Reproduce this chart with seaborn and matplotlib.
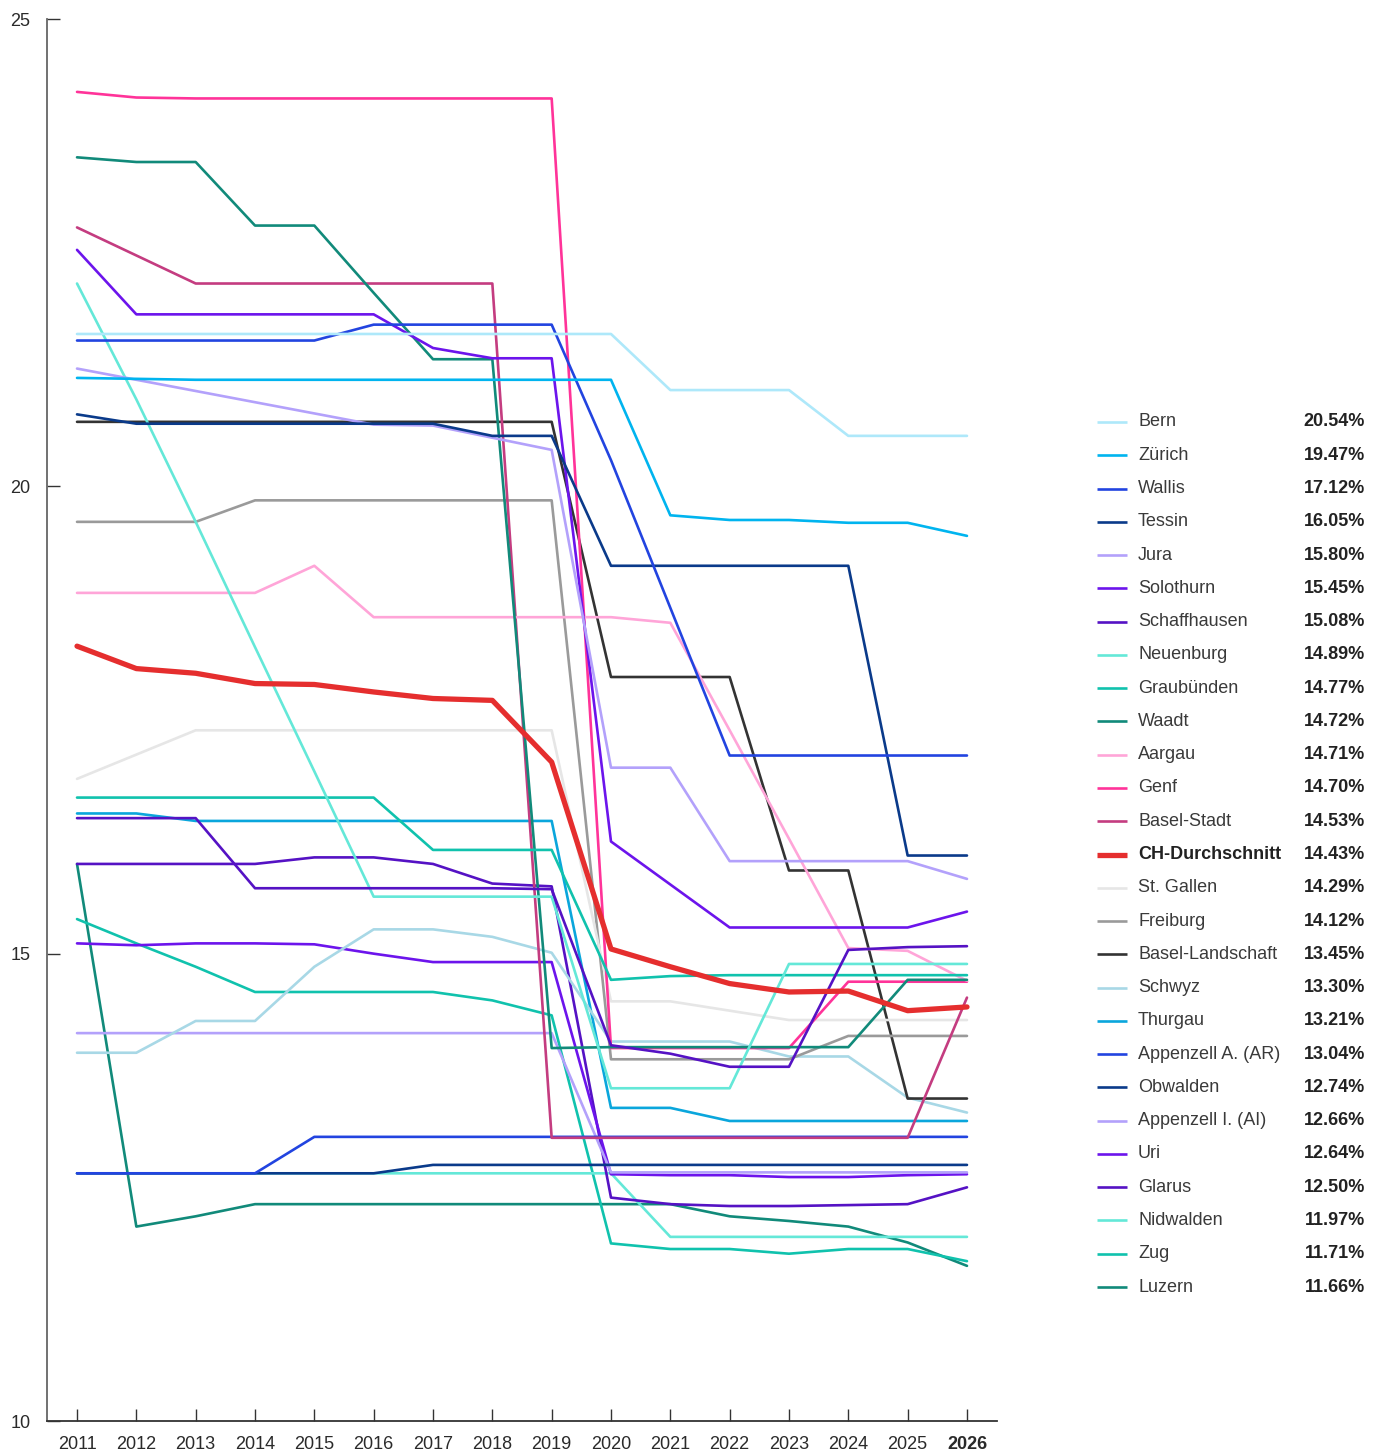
import matplotlib
matplotlib.use("Agg")
import matplotlib.pyplot as plt
from matplotlib.lines import Line2D
import seaborn as sns
import pandas as pd

years = list(range(2011, 2027))

bern = [21.63, 21.63, 21.63, 21.63, 21.63, 21.63, 21.63, 21.63, 21.63, 21.63, 21.03, 21.03, 21.03, 20.54, 20.54, 20.54]
zuerich = [21.16, 21.15, 21.14, 21.14, 21.14, 21.14, 21.14, 21.14, 21.14, 21.14, 19.69, 19.64, 19.64, 19.61, 19.61, 19.47]
wallis = [21.56, 21.56, 21.56, 21.56, 21.56, 21.73, 21.73, 21.73, 21.73, 20.28, 18.70, 17.12, 17.12, 17.12, 17.12, 17.12]
tessin = [20.77, 20.67, 20.67, 20.67, 20.67, 20.67, 20.67, 20.54, 20.54, 19.15, 19.15, 19.15, 19.15, 19.15, 16.05, 16.05]
jura = [21.26, 21.14, 21.02, 20.90, 20.78, 20.66, 20.65, 20.52, 20.39, 16.99, 16.99, 15.99, 15.99, 15.99, 15.99, 15.80]
solothurn = [22.53, 21.84, 21.84, 21.84, 21.84, 21.84, 21.48, 21.37, 21.37, 16.20, 15.74, 15.28, 15.28, 15.28, 15.28, 15.45]
schaffhausen = [16.45, 16.45, 16.45, 15.70, 15.70, 15.70, 15.70, 15.70, 15.69, 14.02, 13.93, 13.79, 13.79, 15.04, 15.07, 15.08]
neuenburg = [22.17, 20.93, 19.62, 18.28, 16.95, 15.61, 15.61, 15.61, 15.61, 13.56, 13.56, 13.56, 14.89, 14.89, 14.89, 14.89]
graubuenden = [16.67, 16.67, 16.67, 16.67, 16.67, 16.67, 16.11, 16.11, 16.11, 14.72, 14.76, 14.77, 14.77, 14.77, 14.77, 14.77]
waadt = [23.52, 23.47, 23.47, 22.79, 22.79, 22.07, 21.36, 21.36, 13.99, 14.00, 14.00, 14.00, 14.00, 14.00, 14.72, 14.72]
aargau = [18.86, 18.86, 18.86, 18.86, 19.15, 18.60, 18.60, 18.60, 18.60, 18.60, 18.54, 17.39, 16.23, 15.06, 15.03, 14.71]
genf = [24.22, 24.16, 24.15, 24.15, 24.15, 24.15, 24.15, 24.15, 24.15, 13.99, 13.99, 13.99, 13.99, 14.70, 14.70, 14.70]
basel_stadt = [22.77, 22.47, 22.17, 22.17, 22.17, 22.17, 22.17, 22.17, 13.03, 13.03, 13.03, 13.03, 13.03, 13.03, 13.03, 14.53]
ch_schnitt = [18.29, 18.05, 18.00, 17.89, 17.88, 17.80, 17.73, 17.71, 17.05, 15.05, 14.86, 14.68, 14.59, 14.60, 14.39, 14.43]
st_gallen = [16.87, 17.13, 17.39, 17.39, 17.39, 17.39, 17.39, 17.39, 17.39, 14.49, 14.49, 14.39, 14.29, 14.29, 14.29, 14.29]
freiburg = [19.62, 19.62, 19.62, 19.85, 19.85, 19.85, 19.85, 19.85, 19.85, 13.87, 13.87, 13.87, 13.87, 14.12, 14.12, 14.12]
basel_land = [20.69, 20.69, 20.69, 20.69, 20.69, 20.69, 20.69, 20.69, 20.69, 17.96, 17.96, 17.96, 15.89, 15.89, 13.45, 13.45]
schwyz = [13.94, 13.94, 14.28, 14.28, 14.86, 15.26, 15.26, 15.18, 15.01, 14.06, 14.06, 14.06, 13.90, 13.90, 13.46, 13.30]
thurgau = [16.50, 16.50, 16.42, 16.42, 16.42, 16.42, 16.42, 16.42, 16.42, 13.35, 13.35, 13.21, 13.21, 13.21, 13.21, 13.21]
appenzell_ar = [12.65, 12.65, 12.65, 12.65, 13.04, 13.04, 13.04, 13.04, 13.04, 13.04, 13.04, 13.04, 13.04, 13.04, 13.04, 13.04]
obwalden = [12.65, 12.65, 12.65, 12.65, 12.65, 12.65, 12.74, 12.74, 12.74, 12.74, 12.74, 12.74, 12.74, 12.74, 12.74, 12.74]
appenzell_ai = [14.15, 14.15, 14.15, 14.15, 14.15, 14.15, 14.15, 14.15, 14.15, 12.66, 12.66, 12.66, 12.66, 12.66, 12.66, 12.66]
uri = [15.11, 15.09, 15.11, 15.11, 15.10, 15.00, 14.91, 14.91, 14.91, 12.64, 12.63, 12.63, 12.61, 12.61, 12.63, 12.64]
glarus = [15.96, 15.96, 15.96, 15.96, 16.03, 16.03, 15.96, 15.75, 15.72, 12.39, 12.32, 12.30, 12.30, 12.31, 12.32, 12.50]
nidwalden = [12.65, 12.65, 12.65, 12.65, 12.65, 12.65, 12.65, 12.65, 12.65, 12.65, 11.97, 11.97, 11.97, 11.97, 11.97, 11.97]
zug = [15.37, 15.11, 14.86, 14.59, 14.59, 14.59, 14.59, 14.50, 14.34, 11.90, 11.84, 11.84, 11.79, 11.84, 11.84, 11.71]
luzern = [15.96, 12.08, 12.19, 12.32, 12.32, 12.32, 12.32, 12.32, 12.32, 12.32, 12.32, 12.19, 12.14, 12.08, 11.91, 11.66]

names = ["Bern", "Zürich", "Wallis", "Tessin", "Jura", "Solothurn", "Schaffhausen",
         "Neuenburg", "Graubünden", "Waadt", "Aargau", "Genf", "Basel-Stadt",
         "CH-Durchschnitt", "St. Gallen", "Freiburg", "Basel-Landschaft", "Schwyz",
         "Thurgau", "Appenzell A. (AR)", "Obwalden", "Appenzell I. (AI)", "Uri",
         "Glarus", "Nidwalden", "Zug", "Luzern"]
series = [bern, zuerich, wallis, tessin, jura, solothurn, schaffhausen, neuenburg,
          graubuenden, waadt, aargau, genf, basel_stadt, ch_schnitt, st_gallen,
          freiburg, basel_land, schwyz, thurgau, appenzell_ar, obwalden,
          appenzell_ai, uri, glarus, nidwalden, zug, luzern]
legend_values = ["20.54%", "19.47%", "17.12%", "16.05%", "15.80%", "15.45%", "15.08%",
                 "14.89%", "14.77%", "14.72%", "14.71%", "14.70%", "14.53%", "14.43%",
                 "14.29%", "14.12%", "13.45%", "13.30%", "13.21%", "13.04%", "12.74%",
                 "12.66%", "12.64%", "12.50%", "11.97%", "11.71%", "11.66%"]
colors = ["#aee8fa", "#00b4ef", "#2244e0", "#0a3a8a", "#b3a1fb", "#6c14ec", "#5512c4",
          "#64e8d8", "#10c2ad", "#118a7a", "#ffa5d8", "#ff3399", "#c43c80", "#e52e2e",
          "#e6e6e6", "#9a9a9a", "#333333", "#a8d8e6", "#0aa6dc", "#2244e0", "#0a3a8a",
          "#b3a1fb", "#6c14ec", "#5512c4", "#64e8d8", "#10c2ad", "#118a7a"]
y_ticks = [10, 15, 20, 25]

rows = []
for n, vals in zip(names, series):
    for yr, v in zip(years, vals):
        rows.append({"Kanton": n, "Jahr": yr, "Wert": v})
df = pd.DataFrame(rows)
palette = dict(zip(names, colors))

sns.set_theme(style="white")
plt.rcParams["font.family"] = ["Liberation Sans", "DejaVu Sans"]

W, H = 1382, 1452
fig = plt.figure(figsize=(W / 100, H / 100), dpi=100)
ax = fig.add_axes([47 / W, 1 - 1421 / H, (997 - 47) / W, (1421 - 19) / H])

others = [n for n in names if n != "CH-Durchschnitt"]
draw_order = others[::-1]
sns.lineplot(data=df[df.Kanton != "CH-Durchschnitt"], x="Jahr", y="Wert", hue="Kanton",
             hue_order=draw_order, palette=palette, linewidth=1.9, legend=False,
             ax=ax, estimator=None, sort=True)
sns.lineplot(data=df[df.Kanton == "CH-Durchschnitt"], x="Jahr", y="Wert",
             color=palette["CH-Durchschnitt"], linewidth=3.8, legend=False, ax=ax,
             estimator=None)

ax.set_xlim(2010.494, 2026.506)
ax.set_ylim(10, 25)
ax.set_xticks(years)
ax.set_xticklabels([str(y) for y in years])
ax.set_yticks(y_ticks)
ax.set_yticklabels([str(t) for t in y_ticks])
ax.set_xlabel("")
ax.set_ylabel("")
for s in ["top", "right"]:
    ax.spines[s].set_visible(False)
ax.spines["left"].set_color("#666666")
ax.spines["bottom"].set_color("#333333")
ax.spines["left"].set_linewidth(1.3)
ax.spines["bottom"].set_linewidth(1.3)
ax.tick_params(axis="both", direction="in", length=9, width=1, colors="#333333",
               labelsize=13, labelcolor="#2a2a2a", bottom=True, left=True)
ax.tick_params(axis="x", pad=11)
ax.tick_params(axis="y", pad=12)
ax.get_xticklabels()[-1].set_fontweight("bold")
ax.grid(False)

# legend
def fx(px):
    return px / W

def fy(py):
    return 1 - py / H

y0, step = 422, 33.27
for i, (n, c, v) in enumerate(zip(names, colors, legend_values)):
    yy = y0 + i * step
    is_ch = n == "CH-Durchschnitt"
    fig.add_artist(Line2D([fx(1097), fx(1127)], [fy(yy), fy(yy)], color=c,
                          linewidth=3.8 if is_ch else 1.9, solid_capstyle="butt"))
    fig.text(fx(1138), fy(yy), n, fontsize=13, va="center", ha="left",
             color="#222222" if is_ch else "#3a3a3a",
             fontweight="bold" if is_ch else "normal")
    fig.text(fx(1365), fy(yy), v, fontsize=13, va="center", ha="right",
             color="#222222", fontweight="bold")

fig.savefig("out.png", dpi=100)
